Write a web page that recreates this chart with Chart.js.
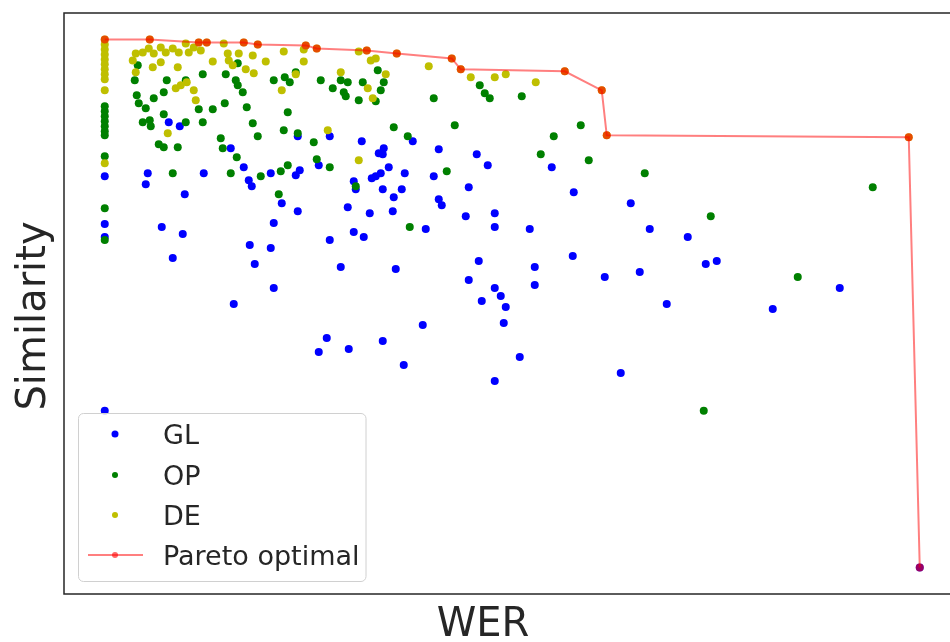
<!DOCTYPE html>
<html>
<head>
<meta charset="utf-8">
<script src="https://cdn.jsdelivr.net/npm/chart.js@4.4.1/dist/chart.umd.min.js"></script>
<style>
  html, body { margin: 0; padding: 0; background: #fff; overflow: hidden; }
  #wrap { width: 975px; height: 642px; }
</style>
</head>
<body>
<div id="wrap"><canvas id="paretoChart" width="975" height="642"></canvas></div>
<script>
// values (no tick labels, so arbitrary units)
const glWer = [0,0,0,0,64,75,126,139,144,147,166,191,195,193,225,257,214,43,41,99,80,177,249,251,276,271,267,243,274,308,334,279,278,284,297,300,329,289,372,383,364,447,469,526,334,337,193,278,265,288,57,78,68,169,145,166,150,169,129,225,249,259,236,222,214,244,278,291,361,390,390,321,425,545,583,601,612,374,364,430,430,390,396,401,377,399,468,500,535,562,318,299,415,390,516,668,735,815];
const glSim = [392,344,331,157,446,442,420,401,388,382,395,393,398,432,432,427,403,395,384,395,374,365,387,379,395,392,390,361,415,427,419,420,414,401,379,395,392,371,414,403,381,401,376,365,369,363,357,379,355,357,341,334,310,345,323,320,304,280,264,328,336,331,301,230,216,219,227,299,352,355,341,339,339,339,331,304,307,307,288,301,283,280,272,261,267,245,312,291,296,264,243,203,211,187,195,259,280,0];

const opWer = [0,0,0,0,0,0,0,0,0,0,33,30,62,81,98,121,131,133,133,138,32,34,41,49,59,59,38,45,46,81,94,98,108,120,142,148,153,116,118,132,54,59,73,68,126,156,176,183,174,169,180,185,191,183,179,193,209,212,225,216,228,236,243,239,241,254,258,273,251,279,276,271,329,375,380,385,417,289,303,350,342,449,476,436,484,305,540,606,768,693,599];
const opSim = [462,457,452,447,442,437,433,412,360,328,503,488,488,488,494,494,488,505,483,476,473,465,460,470,476,454,446,448,442,446,459,446,459,465,461,445,432,430,420,411,424,421,421,395,395,392,397,403,374,488,491,486,496,456,438,435,426,409,401,488,480,488,486,476,472,468,486,498,382,486,478,467,470,483,475,470,472,441,432,443,397,432,443,414,408,341,395,352,381,291,157];

const deWer = [0,0,0,0,0,0,0,0,0,0,0,28,31,38,44,49,56,61,68,74,81,84,89,96,31,48,56,73,108,119,123,124,128,134,141,148,149,161,179,199,199,191,236,254,266,271,281,263,268,324,366,390,401,431,71,76,82,89,91,63,177,223,254,45,94,102,139,153,201,212,262,292,347,356,460,497,502,804];
const deSim = [529,524,519,514,509,504,499,494,489,478,405,508,515,516,520,515,521,516,520,516,525,516,521,518,496,501,506,501,507,525,515,508,503,515,499,513,495,507,517,519,507,494,496,517,508,510,494,480,470,502,491,491,494,486,480,483,486,478,468,435,478,438,408,529,526,526,526,524,523,520,518,515,510,499,497,478,433,431];

const paretoWer = [0,45,94,102,139,153,201,212,262,292,347,356,460,497,502,804,815];
const paretoSim = [529,529,526,526,526,524,523,520,518,515,510,499,497,478,433,431,0];

const seriesLabels = ["GL", "OP", "DE", "Pareto optimal"];
const seriesColors = ["#0000ff", "#008000", "#bfbf00", "rgba(255,0,0,0.6)"];

function toPoints(xs, ys) {
    return xs.map((x, i) => ({ x: x, y: ys[i] }));
}

// frame, axis labels and boxed legend like the matplotlib original
const decorPlugin = {
    id: "decor",
    afterDraw(chart) {
        const ctx = chart.ctx;
        const a = chart.chartArea;
        ctx.save();
        ctx.strokeStyle = "#262626";
        ctx.lineWidth = 1.5;
        ctx.strokeRect(a.left, a.top, a.right - a.left, a.bottom - a.top);

        ctx.fillStyle = "#262626";
        ctx.font = "40px 'DejaVu Sans'";
        ctx.textAlign = "center";
        ctx.textBaseline = "alphabetic";
        ctx.fillText("WER", 483, 636);
        ctx.save();
        ctx.translate(45, 316);
        ctx.rotate(-Math.PI / 2);
        ctx.fillText("Similarity", 0, 0);
        ctx.restore();

        // legend box
        ctx.beginPath();
        ctx.roundRect(78.5, 413.5, 287.5, 168, 5);
        ctx.fillStyle = "rgba(255,255,255,0.8)";
        ctx.fill();
        ctx.strokeStyle = "#d0d0d0";
        ctx.lineWidth = 1;
        ctx.stroke();

        const rowY = [434, 475, 515, 555];
        ctx.font = "27px 'DejaVu Sans'";
        ctx.textAlign = "left";
        chart.data.datasets.forEach((ds, i) => {
            const y = rowY[i];
            if (ds.showLine) {
                ctx.strokeStyle = ds.borderColor;
                ctx.lineWidth = 2;
                ctx.beginPath();
                ctx.moveTo(88, y);
                ctx.lineTo(143, y);
                ctx.stroke();
            }
            ctx.fillStyle = ds.pointBackgroundColor;
            ctx.beginPath();
            ctx.arc(115, y, i === 0 ? 3.5 : 3, 0, Math.PI * 2);
            ctx.fill();
            ctx.fillStyle = "#262626";
            ctx.fillText(ds.label, 163, y + 10);
        });
        ctx.restore();
    }
};

const ctx = document.getElementById("paretoChart").getContext("2d");

let paretoChart = new Chart(ctx, {
    type: "scatter",
    data: {
        datasets: [
            { label: seriesLabels[0], data: toPoints(glWer, glSim), order: 3,
              pointBackgroundColor: seriesColors[0], pointRadius: 4, pointBorderWidth: 0 },
            { label: seriesLabels[1], data: toPoints(opWer, opSim), order: 2,
              pointBackgroundColor: seriesColors[1], pointRadius: 4, pointBorderWidth: 0 },
            { label: seriesLabels[2], data: toPoints(deWer, deSim), order: 1,
              pointBackgroundColor: seriesColors[2], pointRadius: 4, pointBorderWidth: 0 },
            { label: seriesLabels[3], data: toPoints(paretoWer, paretoSim), order: 0,
              showLine: true, borderColor: "rgba(255,0,0,0.5)", borderWidth: 2,
              pointBackgroundColor: seriesColors[3], pointRadius: 4, pointBorderWidth: 0 },
        ],
    },
    options: {
        responsive: false,
        animation: false,
        devicePixelRatio: 1,
        layout: { padding: { left: 64, top: 13, right: 14.5, bottom: 48 } },
        plugins: { legend: { display: false }, tooltip: { enabled: false } },
        scales: {
            x: { type: "linear", display: false, min: -40.75, max: 855.75 },
            y: { type: "linear", display: false, min: -26.45, max: 555.45 },
        },
    },
    plugins: [decorPlugin],
});
</script>
</body>
</html>
